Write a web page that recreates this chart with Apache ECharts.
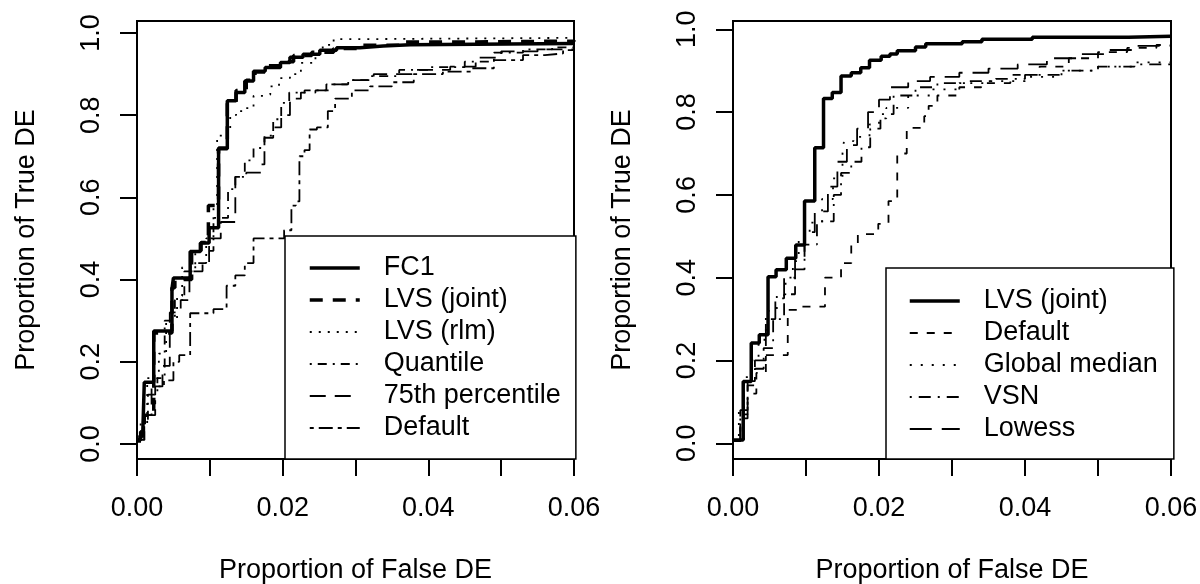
<!DOCTYPE html>
<html>
<head>
<meta charset="utf-8">
<script src="https://cdn.jsdelivr.net/npm/echarts@6/dist/echarts.min.js"></script>
<style>
  html, body { margin: 0; padding: 0; background: #fff; }
  #chart { width: 1200px; height: 584px; }
</style>
</head>
<body>
<div id="chart"></div>
<script>
// ---- data: [false DE proportion, true DE proportion], step curves ----
// left panel
const fc1 = [[0,0.01],[0.0004,0.02],[0.0008,0.03],[0.001,0.15],[0.0023,0.275],[0.0048,0.377],[0.005,0.404],[0.0073,0.468],[0.0087,0.489],[0.0099,0.526],[0.0112,0.718],[0.0124,0.835],[0.0136,0.855],[0.0148,0.883],[0.016,0.907],[0.0176,0.916],[0.0197,0.928],[0.021,0.941],[0.0228,0.948],[0.0251,0.958],[0.0274,0.964],[0.0306,0.968],[0.0338,0.971],[0.0375,0.974],[0.06,0.974]]
const lvsJointL = [[0,0.01],[0.0005,0.03],[0.001,0.07],[0.0023,0.27],[0.0048,0.38],[0.0052,0.4],[0.0075,0.47],[0.0088,0.49],[0.0098,0.58],[0.0112,0.72],[0.0124,0.83],[0.0136,0.86],[0.015,0.885],[0.0162,0.905],[0.0178,0.92],[0.02,0.93],[0.0215,0.945],[0.024,0.953],[0.027,0.962],[0.031,0.97],[0.036,0.978],[0.045,0.98],[0.06,0.982]]
const lvsRlm = [[0,0.01],[0.0005,0.05],[0.0014,0.16],[0.003,0.22],[0.004,0.3],[0.0055,0.36],[0.0062,0.43],[0.008,0.47],[0.0095,0.5],[0.0105,0.58],[0.011,0.75],[0.0122,0.755],[0.0128,0.8],[0.0136,0.81],[0.0148,0.817],[0.016,0.847],[0.0175,0.85],[0.0183,0.87],[0.0195,0.89],[0.021,0.9],[0.0225,0.927],[0.0245,0.95],[0.0255,0.971],[0.027,0.985],[0.032,0.988],[0.06,0.99]]
const quantile = [[0,0.01],[0.0008,0.06],[0.0015,0.12],[0.0028,0.16],[0.0038,0.3],[0.0052,0.35],[0.0065,0.42],[0.008,0.44],[0.0095,0.47],[0.0105,0.55],[0.0125,0.62],[0.0135,0.65],[0.0148,0.69],[0.016,0.72],[0.0175,0.75],[0.0187,0.79],[0.0198,0.83],[0.0209,0.855],[0.023,0.86],[0.026,0.875],[0.029,0.885],[0.032,0.895],[0.036,0.91],[0.04,0.917],[0.045,0.93],[0.049,0.952],[0.053,0.96],[0.057,0.965],[0.06,0.968]]
const pct75 = [[0,0.01],[0.001,0.07],[0.002,0.14],[0.0035,0.19],[0.0045,0.32],[0.006,0.35],[0.0072,0.42],[0.009,0.44],[0.0099,0.5],[0.0115,0.54],[0.0135,0.65],[0.015,0.66],[0.017,0.68],[0.0175,0.745],[0.0187,0.77],[0.0198,0.8],[0.021,0.84],[0.0225,0.855],[0.0245,0.86],[0.0265,0.875],[0.0295,0.885],[0.0325,0.9],[0.038,0.91],[0.043,0.918],[0.0465,0.94],[0.05,0.955],[0.055,0.96],[0.06,0.962]]
const defaultL = [[0,0.005],[0.001,0.07],[0.0025,0.14],[0.0037,0.155],[0.005,0.2],[0.0058,0.216],[0.0073,0.318],[0.0105,0.328],[0.0123,0.385],[0.0135,0.41],[0.0148,0.44],[0.016,0.5],[0.0202,0.52],[0.0212,0.58],[0.0218,0.59],[0.0223,0.7],[0.023,0.715],[0.0237,0.765],[0.0247,0.77],[0.0262,0.81],[0.0272,0.84],[0.0295,0.86],[0.032,0.87],[0.035,0.88],[0.038,0.9],[0.042,0.906],[0.046,0.914],[0.049,0.934],[0.053,0.946],[0.056,0.95],[0.0585,0.958],[0.06,0.96]]

// right panel
const lvsJointR = [[0,0.008],[0.0014,0.149],[0.0025,0.242],[0.0036,0.262],[0.0048,0.402],[0.0059,0.419],[0.0073,0.447],[0.0086,0.479],[0.0098,0.585],[0.0112,0.714],[0.0124,0.833],[0.0136,0.847],[0.0148,0.887],[0.0162,0.895],[0.0175,0.907],[0.0187,0.925],[0.0203,0.935],[0.0215,0.94],[0.0225,0.948],[0.025,0.957],[0.0264,0.965],[0.0314,0.97],[0.0341,0.976],[0.041,0.981],[0.0542,0.983],[0.06,0.984]]
const defaultR = [[0,0.005],[0.001,0.06],[0.002,0.12],[0.0032,0.17],[0.0045,0.213],[0.0075,0.322],[0.0092,0.33],[0.0126,0.4],[0.0148,0.435],[0.0162,0.48],[0.0171,0.505],[0.0199,0.53],[0.0213,0.585],[0.0225,0.7],[0.0238,0.762],[0.0262,0.79],[0.0268,0.815],[0.028,0.84],[0.031,0.86],[0.034,0.87],[0.038,0.89],[0.042,0.91],[0.046,0.93],[0.05,0.945],[0.054,0.955],[0.058,0.962],[0.06,0.965]]
const globalMedian = [[0,0.005],[0.0008,0.08],[0.0015,0.16],[0.0025,0.2],[0.0035,0.25],[0.0045,0.32],[0.006,0.36],[0.0072,0.4],[0.0082,0.44],[0.009,0.5],[0.0105,0.533],[0.0122,0.59],[0.0137,0.64],[0.015,0.7],[0.0152,0.73],[0.0165,0.74],[0.0187,0.77],[0.02,0.785],[0.021,0.81],[0.024,0.84],[0.027,0.855],[0.031,0.87],[0.035,0.875],[0.04,0.885],[0.045,0.9],[0.05,0.91],[0.055,0.92],[0.06,0.93]]
const vsn = [[0,0.005],[0.001,0.07],[0.002,0.14],[0.003,0.18],[0.0042,0.23],[0.0055,0.3],[0.007,0.36],[0.0085,0.42],[0.0098,0.48],[0.0115,0.536],[0.0138,0.6],[0.0148,0.653],[0.0162,0.68],[0.0176,0.715],[0.0188,0.76],[0.0202,0.795],[0.022,0.84],[0.025,0.86],[0.028,0.87],[0.032,0.875],[0.036,0.88],[0.04,0.89],[0.045,0.9],[0.05,0.91],[0.055,0.915],[0.06,0.92]]
const lowess = [[0,0.005],[0.001,0.08],[0.002,0.15],[0.003,0.2],[0.0045,0.3],[0.0058,0.35],[0.007,0.4],[0.0085,0.45],[0.0098,0.51],[0.0112,0.56],[0.013,0.62],[0.0143,0.68],[0.0156,0.72],[0.017,0.76],[0.0185,0.8],[0.02,0.83],[0.0215,0.86],[0.024,0.875],[0.027,0.885],[0.031,0.895],[0.035,0.905],[0.039,0.915],[0.043,0.93],[0.047,0.94],[0.051,0.95],[0.055,0.96],[0.06,0.968]]

const xTicks = [0, 0.01, 0.02, 0.03, 0.04, 0.05, 0.06]
const xLabels = [0, 0.02, 0.04, 0.06]
const yTicks = [0, 0.2, 0.4, 0.6, 0.8, 1.0]

const FONT = 'Liberation Sans'
const FS = 27
const THICK = 3.5
const THIN = 1.8

function xAxisFor(grid) {
  return {
    type: 'value', gridIndex: grid, min: 0, max: 0.06,
    axisLine: { show: true, onZero: false, lineStyle: { color: '#000', width: 2 } },
    axisTick: { show: true, length: 17, customValues: xTicks, lineStyle: { color: '#000', width: 2 } },
    axisLabel: { customValues: xLabels, formatter: v => v.toFixed(2), color: '#000', fontSize: FS, fontFamily: FONT, margin: 36 },
    splitLine: { show: false },
    name: 'Proportion of False DE', nameLocation: 'middle', nameGap: 98,
    nameTextStyle: { color: '#000', fontSize: FS, fontFamily: FONT },
  }
}

function yAxisFor(grid, min, max) {
  return {
    type: 'value', gridIndex: grid, min: min, max: max,
    axisLine: { show: true, onZero: false, lineStyle: { color: '#000', width: 2 } },
    axisTick: { show: true, length: 17, customValues: yTicks, lineStyle: { color: '#000', width: 2 } },
    axisLabel: { customValues: yTicks, formatter: v => v.toFixed(1), rotate: 90, color: '#000', fontSize: FS, fontFamily: FONT, margin: 32 },
    splitLine: { show: false },
    name: 'Proportion of True DE', nameLocation: 'middle', nameRotate: 90, nameGap: 97,
    nameTextStyle: { color: '#000', fontSize: FS, fontFamily: FONT },
  }
}

// step 'end': horizontal first, then the rise at the next x
function line(name, data, grid, type, width) {
  return {
    name: name, type: 'line', xAxisIndex: grid, yAxisIndex: grid, data: data,
    step: 'end', symbol: 'none', silent: true, clip: true,
    lineStyle: { color: '#000', width: width, type: type, cap: 'butt' },
  }
}

// legend entries: [series name, line width]
function legendFor(entries, left, top, padding) {
  return {
    data: entries.map(e => ({ name: e[0], lineStyle: { width: e[1] } })),
    orient: 'vertical', left: left, top: top, padding: padding,
    itemWidth: 50, itemHeight: 14, itemGap: 0,
    borderColor: '#000', borderWidth: 1.5, backgroundColor: '#fff',
    itemStyle: { opacity: 0 },
    formatter: n => n.replace(/^R:/, ''),
    textStyle: { color: '#000', fontSize: FS, fontFamily: FONT, lineHeight: 32, padding: [0, 0, 0, 19] },
    selectedMode: false,
  }
}

const chart = echarts.init(document.getElementById('chart'))
chart.setOption({
  backgroundColor: '#fff',
  animation: false,
  grid: [
    { left: 137, top: 21, width: 437, height: 438, show: true, borderColor: '#000', borderWidth: 2, outerBoundsMode: 'none', containLabel: false },
    { left: 733, top: 21, width: 438, height: 438, show: true, borderColor: '#000', borderWidth: 2, outerBoundsMode: 'none', containLabel: false },
  ],
  xAxis: [xAxisFor(0), xAxisFor(1)],
  yAxis: [yAxisFor(0, -0.0365, 1.029), yAxisFor(1, -0.038, 1.02)],
  legend: [
    legendFor([['FC1', THICK], ['LVS (joint)', THICK], ['LVS (rlm)', THIN], ['Quantile', THIN], ['75th percentile', THIN], ['Default', THIN]], 285, 236, [16, 15, 15, 23]),
    legendFor([['R:LVS (joint)', THICK], ['R:Default', THIN], ['R:Global median', THIN], ['R:VSN', THIN], ['R:Lowess', THIN]], 886, 268, [17, 16, 14, 22]),
  ],
  series: [
    line('FC1', fc1, 0, 'solid', THICK),
    line('LVS (joint)', lvsJointL, 0, [13, 10], THICK),
    line('LVS (rlm)', lvsRlm, 0, [2, 7], THIN),
    line('Quantile', quantile, 0, [2, 6, 9, 6], THIN),
    line('75th percentile', pct75, 0, [16, 9], THIN),
    line('Default', defaultL, 0, [4, 5, 14, 5], THIN),
    line('R:LVS (joint)', lvsJointR, 1, 'solid', THICK),
    line('R:Default', defaultR, 1, [8, 9], THIN),
    line('R:Global median', globalMedian, 1, [2, 9], THIN),
    line('R:VSN', vsn, 1, [2, 7, 12, 7], THIN),
    line('R:Lowess', lowess, 1, [22, 10], THIN),
  ],
})
</script>
</body>
</html>
